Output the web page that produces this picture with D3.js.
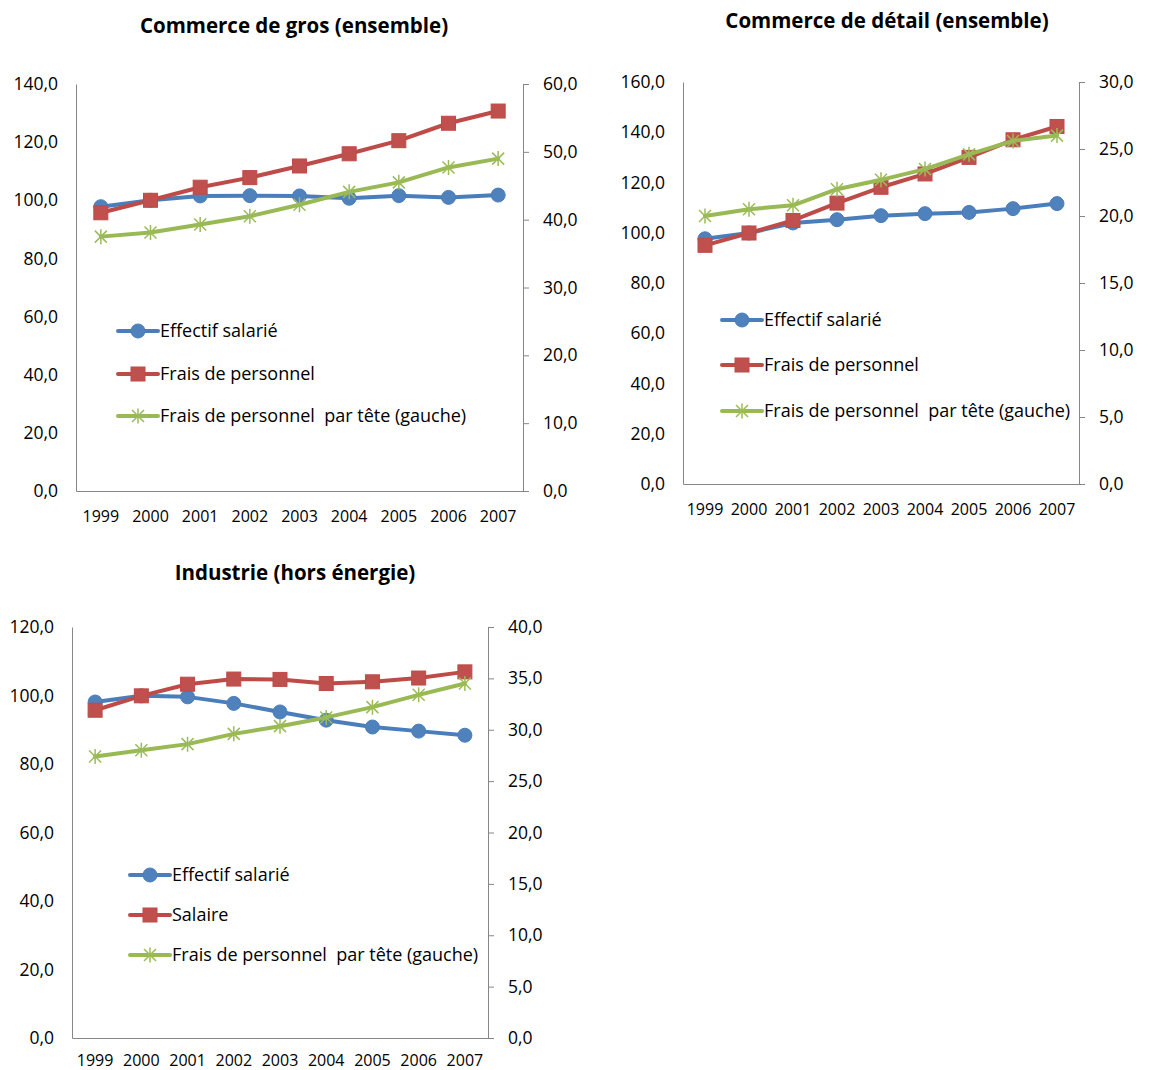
<!DOCTYPE html>
<html><head><meta charset="utf-8">
<script src="https://cdn.jsdelivr.net/npm/d3@7"></script>
<style>
body{margin:0;background:#fff;}
svg text{font-family:"Open Sans",Lato,sans-serif;fill:#000;white-space:pre;}
</style></head>
<body><svg id="chart" width="1156" height="1070"></svg>
<script>
const years = ["1999","2000","2001","2002","2003","2004","2005","2006","2007"];

// Commerce de gros
const grosEffectif = [97.8,100.0,101.5,101.6,101.5,100.7,101.6,101.0,101.8];
const grosFrais    = [95.7,100.0,104.5,107.8,111.8,116.0,120.5,126.5,130.7];
const grosParTete  = [37.5,38.1,39.3,40.5,42.2,44.1,45.5,47.7,49.0];
const grosLeftTicks  = [0,20,40,60,80,100,120,140];
const grosRightTicks = [0,10,20,30,40,50,60];

// Commerce de détail
const detailEffectif = [97.6,99.9,103.9,105.2,106.8,107.6,108.1,109.6,111.6];
const detailFrais    = [95.0,99.9,104.9,111.8,118.1,123.4,130.0,137.0,142.3];
const detailParTete  = [20.0,20.5,20.8,22.0,22.7,23.5,24.6,25.6,26.0];
const detailLeftTicks  = [0,20,40,60,80,100,120,140,160];
const detailRightTicks = [0,5,10,15,20,25,30];

// Industrie
const indEffectif = [98.1,99.9,99.6,97.7,95.2,92.8,90.8,89.6,88.4];
const indSalaire  = [95.7,99.9,103.3,104.8,104.7,103.5,104.0,105.1,106.9];
const indParTete  = [27.4,28.0,28.6,29.6,30.35,31.2,32.2,33.4,34.5];
const indLeftTicks  = [0,20,40,60,80,100,120];
const indRightTicks = [0,5,10,15,20,25,30,35,40];

const labelsGros = ["Effectif salarié","Frais de personnel","Frais de personnel  par tête (gauche)"];
const labelsInd  = ["Effectif salarié","Salaire","Frais de personnel  par tête (gauche)"];

const colors = {blue:"#4A7EBB", red:"#BE4B48", green:"#98B954"};
const fmt = v => d3.format(".1f")(v).replace(".", ",");
const FONT = "'Open Sans',Lato,sans-serif";

const svg = d3.select("#chart");

const panels = [
  {title:"Commerce de gros (ensemble)", titleX:294, titleY:33,
   x0:76, x1:523, y0:84, y1:491, leftTicks:grosLeftTicks, rightTicks:grosRightTicks,
   series:[grosEffectif, grosFrais, grosParTete], labels:labelsGros,
   legX:118, legY:[331,374,416], yearY:522},
  {title:"Commerce de détail (ensemble)", titleX:887, titleY:28,
   x0:683, x1:1079, y0:82, y1:484, leftTicks:detailLeftTicks, rightTicks:detailRightTicks,
   series:[detailEffectif, detailFrais, detailParTete], labels:labelsGros,
   legX:722, legY:[320,365,411], yearY:515},
  {title:"Industrie (hors énergie)", titleX:295, titleY:580,
   x0:72, x1:488, y0:627, y1:1038, leftTicks:indLeftTicks, rightTicks:indRightTicks,
   series:[indEffectif, indSalaire, indParTete], labels:labelsInd,
   legX:130, legY:[875,915,955], yearY:1066}
];

function starPath(s){
  return `M${-s},${-s}L${s},${s}M${-s},${s}L${s},${-s}M0,${-s*1.25}L0,${s*1.25}`;
}

function drawMarker(g, kind, x, y){
  if(kind===0){
    g.append("circle").attr("cx",x).attr("cy",y).attr("r",7).attr("fill","#4F81BD").attr("stroke",colors.blue).attr("stroke-width",1);
  } else if(kind===1){
    g.append("rect").attr("x",x-7).attr("y",y-7).attr("width",14).attr("height",14).attr("fill","#C0504D").attr("stroke",colors.red).attr("stroke-width",1);
  } else {
    g.append("path").attr("transform",`translate(${x},${y})`).attr("d",starPath(6)).attr("stroke","#9BBB59").attr("stroke-width",1.5).attr("fill","none");
  }
}

panels.forEach(p=>{
  const g = svg.append("g");
  const x = d3.scaleBand().domain(years).range([p.x0,p.x1]);
  const yL = d3.scaleLinear().domain([0,d3.max(p.leftTicks)]).range([p.y1,p.y0]);
  const yR = d3.scaleLinear().domain([0,d3.max(p.rightTicks)]).range([p.y1,p.y0]);

  g.append("text").attr("x",p.titleX).attr("y",p.titleY).attr("text-anchor","middle")
    .attr("font-weight","bold").attr("font-size",20.5).text(p.title);

  // left axis
  const la = g.append("g").attr("transform",`translate(${p.x0},0)`)
    .call(d3.axisLeft(yL).tickValues(p.leftTicks).tickFormat(fmt).tickSize(0).tickPadding(18));
  la.select(".domain").attr("stroke","#868686");
  la.selectAll("text").attr("font-size",17.5).style("font-family",FONT);

  // right axis
  const ra = g.append("g").attr("transform",`translate(${p.x1},0)`)
    .call(d3.axisRight(yR).tickValues(p.rightTicks).tickFormat(fmt).tickSize(6).tickPadding(14));
  ra.selectAll(".domain").attr("stroke","#868686");
  ra.selectAll("line").attr("stroke","#868686");
  ra.selectAll("text").attr("font-size",17.5).style("font-family",FONT);

  // bottom axis
  const ba = g.append("g").attr("transform",`translate(0,${p.y1})`)
    .call(d3.axisBottom(x).tickSize(0).tickPadding(0));
  ba.select(".domain").attr("stroke","#868686");
  ba.selectAll("text").attr("font-size",16).attr("dy",null).attr("y",p.yearY-p.y1)
    .style("font-family",FONT);

  const cx = d => x(d)+x.bandwidth()/2;
  const scales=[yL,yL,yR];
  const cols=[colors.blue,colors.red,colors.green];
  p.series.forEach((s,i)=>{
    const line = d3.line().x((d,j)=>cx(years[j])).y(d=>scales[i](d));
    g.append("path").datum(s).attr("d",line).attr("fill","none").attr("stroke",cols[i])
      .attr("stroke-width",4).attr("stroke-linejoin","round").attr("stroke-linecap","round");
    s.forEach((v,j)=>drawMarker(g,i,cx(years[j]),scales[i](v)));
  });

  // legend
  p.labels.forEach((lab,i)=>{
    const ly=p.legY[i];
    g.append("line").attr("x1",p.legX).attr("x2",p.legX+40).attr("y1",ly).attr("y2",ly)
      .attr("stroke",cols[i]).attr("stroke-width",4).attr("stroke-linecap","round");
    drawMarker(g,i,p.legX+20,ly);
    g.append("text").attr("x",p.legX+42).attr("y",ly+6).attr("font-size",18).text(lab);
  });
});
</script></body></html>
